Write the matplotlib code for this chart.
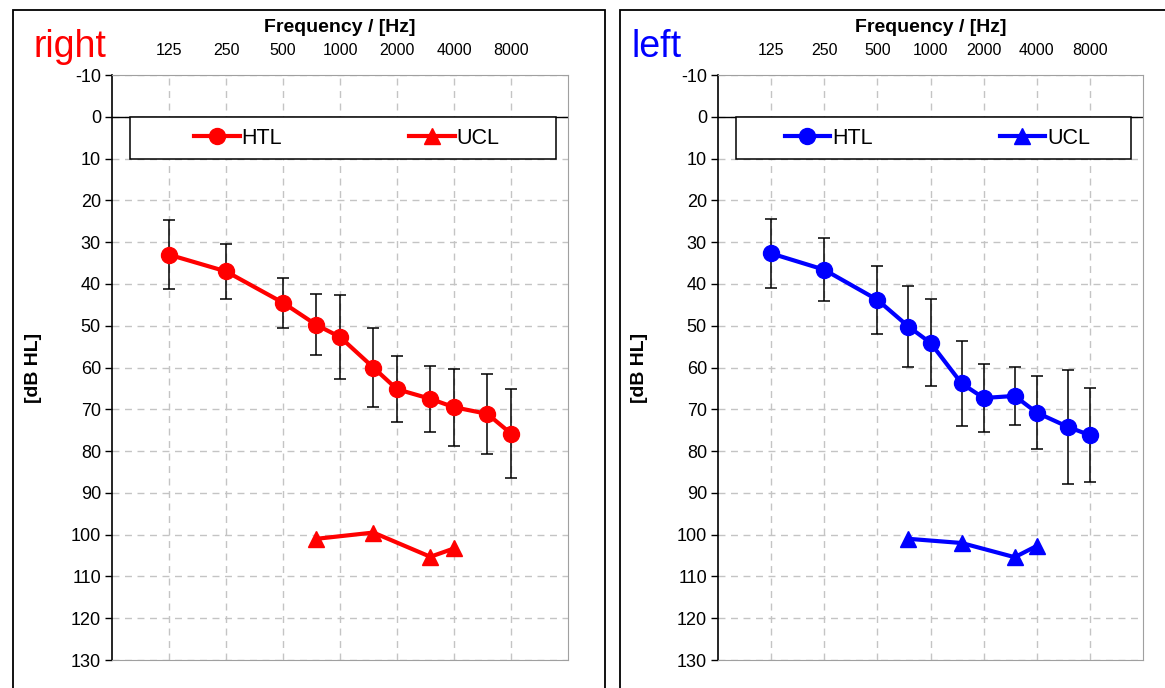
"""Audiogram, right and left ear: mean HTL with SD bars and UCL"""

import matplotlib
matplotlib.use('Agg')
import matplotlib.pyplot as plt
from matplotlib.patches import Rectangle
from matplotlib.lines import Line2D
from matplotlib.ticker import FixedLocator, NullLocator

plt.rcParams['font.family'] = ['Liberation Sans', 'DejaVu Sans']
plt.rcParams['axes.unicode_minus'] = False

# --- data ---
freqs = [125, 250, 500, 750, 1000, 1500, 2000, 3000, 4000, 6000, 8000]
right_htl = [33.0, 37.0, 44.5, 49.8, 52.7, 60.0, 65.2, 67.5, 69.5, 71.1, 75.8]
right_sd = [8.2, 6.6, 6.0, 7.3, 10.0, 9.5, 7.9, 7.9, 9.2, 9.5, 10.6]
left_htl = [32.7, 36.6, 43.8, 50.2, 54.1, 63.8, 67.3, 66.8, 70.8, 74.2, 76.2]
left_sd = [8.2, 7.5, 8.2, 9.7, 10.4, 10.2, 8.1, 6.9, 8.7, 13.6, 11.3]

ucl_freqs = [750, 1500, 3000, 4000]
right_ucl = [101.0, 99.5, 105.3, 103.3]
left_ucl = [101.0, 102.0, 105.4, 102.7]

tick_freqs = [125, 250, 500, 1000, 2000, 4000, 8000]
tick_labels = ['125', '250', '500', '1000', '2000', '4000', '8000']

W, H = 1165, 688
fig = plt.figure(figsize=(W / 100, H / 100), dpi=100)


def fx(px):
    return px / W


def fy(py):
    return 1 - py / H


def draw_panel(ax_px, frame_px, color, side, side_x, ylab_x):
    x0, x1, y0, y1 = ax_px
    ax = fig.add_axes([fx(x0), fy(y1), fx(x1 - x0), (y1 - y0) / H])

    # outer frame around the panel
    fx0, fx1 = frame_px
    fig.patches.append(Rectangle((fx(fx0), fy(700)), fx(fx1 - fx0), (700 - 10) / H,
                                 transform=fig.transFigure, fill=False,
                                 edgecolor='black', linewidth=1.3, zorder=0))

    ax.set_xscale('log', base=2)
    ax.set_xlim(62.5, 16000)
    ax.set_ylim(130, -10)
    ax.xaxis.set_major_locator(FixedLocator(tick_freqs))
    ax.xaxis.set_minor_locator(NullLocator())
    ax.set_xticklabels(tick_labels)
    ax.xaxis.tick_top()
    ax.tick_params(axis='x', length=0, pad=12, labelsize=11.5)
    ax.set_yticks(range(-10, 131, 10))
    ax.tick_params(axis='y', direction='out', length=5, width=1, labelsize=13, pad=3)

    ax.grid(True, color='#c4c4c4', linestyle=(0, (5, 4)), linewidth=1)
    ax.set_axisbelow(True)
    for s in ['top', 'right', 'bottom']:
        ax.spines[s].set_color('#a0a0a0')
    ax.spines['left'].set_color('black')
    ax.spines['left'].set_linewidth(1.2)

    ax.axhline(0, color='black', linewidth=1, zorder=1.5)

    htl = right_htl if side == 'right' else left_htl
    sd = right_sd if side == 'right' else left_sd
    ucl = right_ucl if side == 'right' else left_ucl

    ax.errorbar(freqs, htl, yerr=sd, fmt='none', ecolor='black',
                elinewidth=1.1, capsize=4, capthick=1.1, zorder=2)
    ax.plot(freqs, htl, color=color, linewidth=3, marker='o',
            markersize=11.5, zorder=3)
    ax.plot(ucl_freqs, ucl, color=color, linewidth=3, marker='^',
            markersize=12, zorder=3)

    # legend box spanning the top of the plot
    lx0 = (x0 + 18 - x0) / (x1 - x0)
    lx1 = (x1 - 12 - x0) / (x1 - x0)
    ly_top = (y1 - 117) / (y1 - y0)
    ly_bot = (y1 - 159) / (y1 - y0)
    ax.add_patch(Rectangle((lx0, ly_bot), lx1 - lx0, ly_top - ly_bot,
                           transform=ax.transAxes, facecolor='white',
                           edgecolor='black', linewidth=1.1, zorder=4))
    handles = [Line2D([], [], color=color, linewidth=3, marker='o', markersize=11.5),
               Line2D([], [], color=color, linewidth=3, marker='^', markersize=12)]
    leg_cx = (lx0 + lx1) / 2 + 4 / (x1 - x0)
    leg = ax.legend(handles, ['HTL', 'UCL'], loc='center',
                    bbox_to_anchor=(leg_cx, (ly_top + ly_bot) / 2),
                    ncol=2, frameon=False, fontsize=15.5, handlelength=2.1,
                    handletextpad=0.1, columnspacing=5.9, borderaxespad=0)
    leg.set_zorder(5)

    fig.text(fx((x0 + x1) / 2), fy(28), 'Frequency / [Hz]', ha='center', va='center',
             fontsize=14, fontweight='bold')
    fig.text(fx(ylab_x), fy(368), '[dB HL]', ha='center', va='center',
             rotation=90, fontsize=14, fontweight='bold')
    fig.text(fx(side_x), fy(47), side, ha='left', va='center',
             fontsize=27, color=color)
    return ax


draw_panel((112, 568, 75, 660), (13, 605), 'red', 'right', 33, 33)
draw_panel((718, 1143, 75, 660), (620, 1180), 'blue', 'left', 632, 640)

plt.savefig('out.png', dpi=100, facecolor='white')
